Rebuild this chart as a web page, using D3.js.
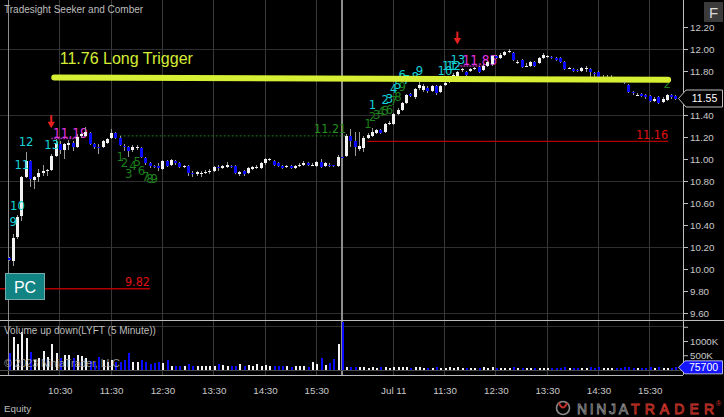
<!DOCTYPE html>
<html><head><meta charset="utf-8">
<script src="https://cdn.jsdelivr.net/npm/d3@7/dist/d3.min.js"></script>
<style>
html,body{margin:0;padding:0;background:#000;}
svg{display:block;}
text{font-family:"Liberation Sans",Arial,sans-serif;}
.narrow{font-family:"Liberation Sans Narrow","Arial Narrow","DejaVu Sans Condensed",sans-serif;font-stretch:condensed;}
</style></head><body>
<svg id="c" width="724" height="417"></svg>
<script>
// ---------------- DATA ----------------
const firstBar = -1; // bar index of first element (5-minute bars, 2 sessions)
const opens = [
 10.10,10.07,10.29,10.48,10.84,10.98,10.81,10.84,10.87,10.89,
 10.90,11.03,11.14,11.08,11.13,11.15,11.11,11.21,11.21,11.24,
 11.14,11.11,11.11,11.15,11.19,11.24,11.19,11.12,11.11,11.08,
 11.10,11.10,11.01,10.96,10.94,10.94,10.91,10.98,10.95,10.98,
 10.96,10.93,10.94,10.87,10.86,10.87,10.87,10.88,10.89,10.93,
 10.92,10.93,10.94,10.94,10.86,10.89,10.87,10.91,10.93,10.92,
 10.96,10.99,10.98,10.96,10.94,10.93,10.94,10.92,10.95,10.95,
 10.96,10.95,10.94,10.97,10.94,10.95,10.95,10.94,11.02,11.03,
 11.21,11.16,11.09,11.10,11.19,11.21,11.24,11.26,11.25,11.32,
 11.32,11.41,11.45,11.51,11.59,11.56,11.65,11.63,11.65,11.62,
 11.66,11.61,11.67,11.70,11.73,11.75,11.81,11.79,11.80,11.82,
 11.84,11.81,11.85,11.86,11.94,11.92,11.95,11.97,11.96,11.88,
 11.90,11.85,11.85,11.88,11.87,11.92,11.93,11.93,11.92,11.92,
 11.88,11.83,11.82,11.81,11.80,11.83,11.82,11.78,11.79,11.74,
 11.74,11.74,11.74,11.73,11.73,11.67,11.61,11.58,11.59,11.58,
 11.57,11.53,11.56,11.52,11.54,11.58,11.57];
const highs = [
 10.11,10.32,10.49,10.85,11.06,10.99,10.85,10.91,10.95,10.91,
 11.05,11.18,11.16,11.15,11.17,11.16,11.23,11.24,11.29,11.25,
 11.15,11.14,11.17,11.19,11.27,11.25,11.21,11.14,11.12,11.13,
 11.13,11.11,11.02,10.97,10.95,10.96,10.99,10.99,11.00,10.99,
 10.97,10.95,10.95,10.89,10.89,10.89,10.90,10.91,10.94,10.95,
 10.95,10.97,10.95,10.95,10.89,10.90,10.93,10.94,10.95,10.97,
 11.01,11.01,10.99,10.97,10.95,10.95,10.95,10.95,10.96,10.98,
 10.97,10.96,10.98,11.00,10.97,10.96,10.95,11.04,11.03,11.23,
 11.27,11.25,11.25,11.21,11.24,11.28,11.27,11.27,11.33,11.35,
 11.42,11.46,11.52,11.59,11.60,11.65,11.72,11.68,11.66,11.67,
 11.67,11.67,11.70,11.74,11.78,11.80,11.83,11.80,11.83,11.84,
 11.85,11.86,11.89,11.95,11.95,11.96,11.98,12.00,11.97,11.90,
 11.91,11.87,11.89,11.89,11.93,11.96,11.95,11.94,11.93,11.93,
 11.89,11.84,11.83,11.82,11.84,11.85,11.83,11.79,11.80,11.76,
 11.76,11.76,11.75,11.74,11.74,11.68,11.62,11.60,11.60,11.59,
 11.58,11.56,11.57,11.56,11.59,11.59,11.58];
const lows = [
 10.07,10.03,10.27,10.44,10.83,10.75,10.73,10.79,10.85,10.85,
 10.89,11.02,11.05,11.00,11.08,11.07,11.10,11.19,11.20,11.13,
 11.09,11.05,11.10,11.14,11.18,11.18,11.12,11.07,11.02,11.06,
 11.08,11.01,10.95,10.92,10.92,10.89,10.90,10.93,10.94,10.95,
 10.92,10.92,10.85,10.84,10.85,10.84,10.86,10.86,10.88,10.89,
 10.91,10.92,10.92,10.86,10.85,10.85,10.86,10.90,10.91,10.91,
 10.95,10.98,10.94,10.93,10.91,10.92,10.91,10.91,10.93,10.94,
 10.94,10.94,10.93,10.92,10.93,10.93,10.93,10.93,11.00,11.02,
 11.11,11.03,11.07,11.06,11.18,11.20,11.23,11.23,11.24,11.31,
 11.31,11.40,11.44,11.50,11.56,11.55,11.63,11.61,11.60,11.61,
 11.58,11.60,11.66,11.69,11.72,11.74,11.79,11.75,11.79,11.81,
 11.78,11.80,11.84,11.85,11.91,11.91,11.94,11.96,11.89,11.86,
 11.83,11.84,11.84,11.84,11.86,11.91,11.92,11.91,11.89,11.87,
 11.81,11.82,11.79,11.79,11.79,11.79,11.72,11.75,11.73,11.72,
 11.73,11.73,11.71,11.70,11.68,11.60,11.58,11.57,11.56,11.55,
 11.52,11.52,11.50,11.51,11.53,11.55,11.54];
const closes = [
 10.08,10.28,10.47,10.84,10.98,10.82,10.84,10.87,10.89,10.90,
 11.03,11.15,11.08,11.14,11.15,11.11,11.20,11.23,11.25,11.14,
 11.11,11.10,11.16,11.18,11.24,11.19,11.13,11.11,11.07,11.11,
 11.11,11.02,10.96,10.94,10.93,10.92,10.98,10.94,10.99,10.96,
 10.93,10.94,10.87,10.86,10.88,10.87,10.88,10.89,10.93,10.92,
 10.94,10.95,10.93,10.87,10.88,10.86,10.92,10.93,10.93,10.96,
 11.00,11.00,10.95,10.94,10.92,10.94,10.92,10.94,10.95,10.96,
 10.95,10.95,10.97,10.93,10.96,10.94,10.94,11.02,11.01,11.21,
 11.16,11.11,11.12,11.19,11.22,11.25,11.26,11.24,11.32,11.33,
 11.41,11.45,11.51,11.58,11.57,11.64,11.67,11.66,11.62,11.66,
 11.60,11.66,11.69,11.73,11.76,11.79,11.82,11.76,11.82,11.83,
 11.79,11.85,11.88,11.94,11.92,11.95,11.97,11.98,11.90,11.88,
 11.84,11.85,11.88,11.85,11.92,11.95,11.94,11.92,11.90,11.88,
 11.82,11.83,11.80,11.80,11.83,11.83,11.79,11.77,11.74,11.75,
 11.74,11.75,11.72,11.71,11.69,11.61,11.60,11.58,11.57,11.56,
 11.53,11.55,11.51,11.55,11.58,11.56,11.55];
// volume in thousands
const volumes = [
 575,1150,900,1300,1100,600,350,420,640,450,
 890,590,400,500,520,420,510,490,420,310,
 280,450,350,270,350,280,250,330,590,250,
 280,330,280,180,220,250,220,330,110,130,
 130,110,180,110,130,110,130,110,130,200,
 160,130,110,130,200,130,160,130,200,130,
 160,130,110,130,110,110,90,110,110,130,
 90,280,200,400,160,220,370,890,1665,100,
 90,100,80,90,70,80,70,75,90,70,
 95,80,90,100,65,85,80,65,70,65,
 80,65,60,75,65,80,60,65,50,60,
 65,75,60,80,65,60,50,60,75,50,
 65,50,60,60,65,60,50,50,60,60,
 75,45,60,50,60,50,80,50,75,50,
 45,50,50,60,75,90,60,50,60,60,
 75,60,80,65,60,65,75.7];

const timeTickBars   = [11,23,35,47,59,71,89,101,113,125,137,149];
const timeTickLabels = ["10:30","11:30","12:30","13:30","14:30","15:30","Jul 11","11:30","12:30","13:30","14:30","15:30"];
const sessionBars    = [-1,77];
const priceTicks     = [9.6,9.8,10.0,10.2,10.4,10.6,10.8,11.0,11.2,11.4,11.6,11.8,12.0,12.2];
const priceGrid      = [9.6,10.2,10.8,11.4,12.0];
const volumeTicks    = [500,1000,1500];
const lastPrice = 11.55;
const lastVolume = 75700;

// setup counts (cyan), countdown counts (green)
const cyanCounts = [
 ["9",0,10.43],["10",1,10.58],["11",2,10.95],["12",3,11.16],["13",9,11.13],
 ["1",84,11.50],["2",87,11.54],["3",88,11.555],["4",89,11.64],["5",90,11.68],["6",91,11.77],
 ["7",92,11.72],["8",94,11.75],["9",95,11.81],["10",101,11.81],["11",102,11.855],["12",103,11.855],["13",104,11.91]];
const greenCounts = [
 ["1",25,11.02],["2",26,10.97],["3",27,10.87],["4",28,10.945],["5",29,10.98],["6",30,10.90],
 ["7",31,10.845],["8",32,10.82],["9",33,10.82],
 ["1",83,11.32],["2",84,11.39],["3",85,11.41],["4",86,11.43],["5",87,11.44],["6",88,11.455],
 ["7",89,11.53],["8",90,11.57],["9",91,11.66],["2",153,11.69]];
// perfection levels (magenta): text, start bar, end bar, price, text bar
const magentaLevels = [["11.19",9,15,11.19,9.4],["11.85",104,110.5,11.85,105.2]];
const arrowBars   = [9,104];
const arrowPrices = [11.28,12.04];
// horizontal levels: label, from bar, to bar, price, colour key, dashed
const levels = [
 ["11.16",82.9,153.3,11.16,"red",false],
 ["9.82",-3,32.1,9.82,"red",false],
 ["11.21",25,78,11.21,"green",true]];
const trigger = {label:"11.76 Long Trigger", startBar:9.7, endBar:153.3, p1:11.74, p2:11.72};

// ---------------- DRAW ----------------
const svg = d3.select("#c");
const AX = 683, PB = 320, VB = 375;
const x  = d3.scaleLinear().domain([-1,155]).range([8.5,675.4]);
const y  = d3.scaleLinear().domain([9.6,12.2]).range([313,27]);
const yv = d3.scaleLinear().domain([0,1000]).range([369.5,341]);
const COL = {white:"#f2f2f2", blue:"#0a0aff", wick:"#9a9a9a", grid:"#2e2e2e", vgrid:"#383838",
  cyan:"#12d2d8", green:"#1c7f1c", magenta:"#e035e0", red:"#b00000", yellow:"#d6ee34", axis:"#c8c8c8"};

svg.append("rect").attr("width",724).attr("height",417).attr("fill","#000");

const g = svg.append("g").attr("shape-rendering","crispEdges");
g.selectAll(".hg").data(priceGrid).join("line")
 .attr("x1",0).attr("x2",AX).attr("y1",d=>y(d)).attr("y2",d=>y(d)).attr("stroke",COL.grid);
g.append("line").attr("x1",0).attr("x2",AX).attr("y1",yv(1500)).attr("y2",yv(1500)).attr("stroke",COL.grid);
g.selectAll(".vg").data(timeTickBars).join("line")
 .attr("x1",d=>x(d)).attr("x2",d=>x(d)).attr("y1",0).attr("y2",VB).attr("stroke",COL.vgrid);
g.selectAll(".sg").data(sessionBars).join("line")
 .attr("x1",d=>x(d)).attr("x2",d=>x(d)).attr("y1",0).attr("y2",VB).attr("stroke","#8c8c8c").attr("stroke-width",1.3);
g.append("line").attr("x1",0).attr("x2",AX).attr("y1",yv(0)+0.5).attr("y2",yv(0)+0.5).attr("stroke","#4a4a4a");
g.append("line").attr("x1",0).attr("x2",724).attr("y1",PB).attr("y2",PB).attr("stroke","#bdbdbd");
g.append("line").attr("x1",0).attr("x2",AX).attr("y1",VB).attr("y2",VB).attr("stroke","#bdbdbd");
g.append("line").attr("x1",AX).attr("x2",AX).attr("y1",0).attr("y2",VB).attr("stroke","#bdbdbd");

levels.forEach(([lab,b0,b1,p,c,dash])=>{
  const col = c==="red"?COL.red:COL.green;
  svg.append("line").attr("x1",x(b0)).attr("x2",x(b1)).attr("y1",y(p)).attr("y2",y(p))
    .attr("stroke",col).attr("stroke-width",dash?1:1.4).attr("stroke-dasharray",dash?"2,2":null);
  svg.append("text").attr("class","narrow").attr("x",x(b1)).attr("y",y(p)-2.5).attr("text-anchor","end")
    .attr("font-size",12.5).attr("fill",c==="red"?"#e01010":"#22901f").text(lab);
});
magentaLevels.forEach(([lab,b0,b1,p,tb])=>{
  svg.append("line").attr("x1",x(b0)).attr("x2",x(b1)).attr("y1",y(p)+0.5).attr("y2",y(p)+0.5)
    .attr("stroke","#a028a0").attr("stroke-width",1.5).attr("stroke-dasharray","2,1");
  svg.append("text").attr("class","narrow").attr("x",x(tb)).attr("y",y(p)-0.5)
    .attr("font-size",13.5).attr("fill",COL.magenta).text(lab);
});

const bars = opens.map((o,k)=>({i:firstBar+k,o,h:highs[k],l:lows[k],c:closes[k],v:volumes[k]}));
const cg = svg.append("g").attr("shape-rendering","crispEdges");
cg.selectAll(".wk").data(bars).join("line")
 .attr("x1",d=>Math.round(x(d.i))+0.5).attr("x2",d=>Math.round(x(d.i))+0.5)
 .attr("y1",d=>y(d.h)).attr("y2",d=>y(d.l)).attr("stroke",COL.wick);
cg.selectAll(".bd").data(bars).join("rect")
 .attr("x",d=>Math.round(x(d.i))-1).attr("width",3)
 .attr("y",d=>y(Math.max(d.o,d.c)))
 .attr("height",d=>Math.max(1,Math.abs(y(d.o)-y(d.c))))
 .attr("fill",d=>d.c<d.o?COL.blue:COL.white);

cg.selectAll(".vb").data(bars).join("rect")
 .attr("x",d=>Math.round(x(d.i))-0.5).attr("width",2)
 .attr("y",d=>yv(d.v)).attr("height",d=>Math.max(1,yv(0)-yv(d.v)))
 .attr("fill",d=>d.c<d.o?COL.blue:COL.white);

function counts(arr,col){
  svg.selectAll(null).data(arr).join("text").attr("class","narrow")
   .attr("x",d=>x(d[1])+0.5).attr("y",d=>y(d[2])).attr("dy","0.36em")
   .attr("text-anchor","middle").attr("font-size",13).attr("fill",col).text(d=>d[0]);
}
counts(greenCounts,COL.green);
counts(cyanCounts,COL.cyan);

arrowBars.forEach((b,k)=>{
  const tx=x(b), ty=y(arrowPrices[k]);
  svg.append("rect").attr("x",tx-1).attr("y",ty-13).attr("width",2).attr("height",7).attr("fill","#e82020");
  svg.append("path").attr("d",`M${tx-3.6},${ty-6.5}L${tx+3.6},${ty-6.5}L${tx},${ty}Z`).attr("fill","#e82020");
});

svg.append("line").attr("x1",x(trigger.startBar)).attr("x2",x(trigger.endBar))
 .attr("y1",y(trigger.p1)).attr("y2",y(trigger.p2))
 .attr("stroke",COL.yellow).attr("stroke-width",6).attr("stroke-linecap","round");
svg.append("text").attr("x",x(trigger.startBar)+5.5).attr("y",y(trigger.p1)-13.5)
 .attr("font-size",16).attr("fill",COL.yellow).text(trigger.label);

svg.append("rect").attr("x",5.5).attr("y",273.5).attr("width",39).attr("height",26)
 .attr("fill","#118383").attr("stroke","#7aa").attr("stroke-width",1);
svg.append("text").attr("x",25).attr("y",292.5).attr("text-anchor","middle")
 .attr("font-size",16).attr("fill","#ffffff").text("PC");

const pa = svg.append("g").attr("transform",`translate(${AX},0)`)
 .call(d3.axisRight(y).tickValues(priceTicks).tickSize(5).tickPadding(2).tickFormat(d3.format(".2f")));
pa.select(".domain").remove();
pa.selectAll("line").attr("stroke","#bdbdbd");
pa.selectAll("text").attr("fill",COL.axis).attr("font-size",9.8).attr("font-family","Liberation Sans, Arial, sans-serif");

const va = svg.append("g").attr("transform",`translate(${AX},0)`)
 .call(d3.axisRight(yv).tickValues(volumeTicks).tickSize(5).tickPadding(2).tickFormat(d=>d===1500?"":d+"K"));
va.select(".domain").remove();
va.selectAll("line").attr("stroke","#bdbdbd");
va.selectAll("text").attr("fill",COL.axis).attr("font-size",9.8).attr("font-family","Liberation Sans, Arial, sans-serif");

const ta = svg.append("g").attr("transform",`translate(0,${VB})`)
 .call(d3.axisBottom(x).tickValues(timeTickBars).tickSize(0).tickPadding(12.5).tickFormat((d,i)=>timeTickLabels[i]));
ta.select(".domain").remove();
ta.selectAll("text").attr("fill",COL.axis).attr("font-size",9.8).attr("font-family","Liberation Sans, Arial, sans-serif");

const lp = y(lastPrice);
svg.append("path").attr("d",`M678.5,${lp}L686,${lp-8.5}L722.5,${lp-8.5}L722.5,${lp+8.5}L686,${lp+8.5}Z`)
 .attr("fill","#000").attr("stroke","#bdbdbd");
svg.append("text").attr("x",704.5).attr("y",lp).attr("dy","0.36em").attr("text-anchor","middle")
 .attr("font-size",10.5).attr("fill","#fff").text(d3.format(".2f")(lastPrice));
const lv = yv(lastVolume/1000);
svg.append("path").attr("d",`M678.5,${lv}L685,${lv-6.5}L722.5,${lv-6.5}L722.5,${lv+6.5}L685,${lv+6.5}Z`)
 .attr("fill","#1414ff").attr("stroke","#e0e0ff").attr("stroke-width",0.8);
svg.append("text").attr("x",703.5).attr("y",lv).attr("dy","0.36em").attr("text-anchor","middle")
 .attr("font-size",10.5).attr("fill","#fff").text(lastVolume);

svg.append("rect").attr("x",704).attr("y",2).attr("width",19).attr("height",20).attr("fill","#3b3b3b");
svg.append("text").attr("x",713.5).attr("y",17.5).attr("text-anchor","middle").attr("font-size",15).attr("fill","#dcdcdc").text("F");

svg.append("text").attr("x",4).attr("y",13).attr("font-size",10).attr("fill","#bdbdbd").text("Tradesight Seeker and Comber");
svg.append("text").attr("x",4).attr("y",333.5).attr("font-size",10).attr("fill","#bdbdbd").text("Volume up down(LYFT (5 Minute))");
svg.append("text").attr("x",4).attr("y",366.5).attr("font-size",10.5).attr("fill","#a8a8a8").attr("opacity",0.85).text("© 2023 NinjaTrader, LLC");
svg.append("text").attr("x",4).attr("y",411.5).attr("font-size",9.8).attr("fill","#bdbdbd").text("Equity");

svg.append("circle").attr("cx",563).attr("cy",408).attr("r",6.5).attr("fill","none").attr("stroke","#8a8a8a").attr("stroke-width",1.6);
svg.append("path").attr("d","M559,403 Q563,412 567,403").attr("fill","none").attr("stroke","#c0302a").attr("stroke-width",2);
svg.append("text").attr("x",577).attr("y",414).attr("font-size",14).attr("textLength",51).attr("lengthAdjust","spacing")
 .attr("fill","none").attr("stroke","#8f8f8f").attr("stroke-width",0.8).text("NINJA");
svg.append("text").attr("x",631).attr("y",414).attr("font-size",14).attr("textLength",83).attr("lengthAdjust","spacing")
 .attr("fill","none").attr("stroke","#d0362c").attr("stroke-width",0.9).text("TRADER");
svg.append("text").attr("x",716).attr("y",406).attr("font-size",7).attr("fill","#d0362c").text("®");
</script>
</body></html>
